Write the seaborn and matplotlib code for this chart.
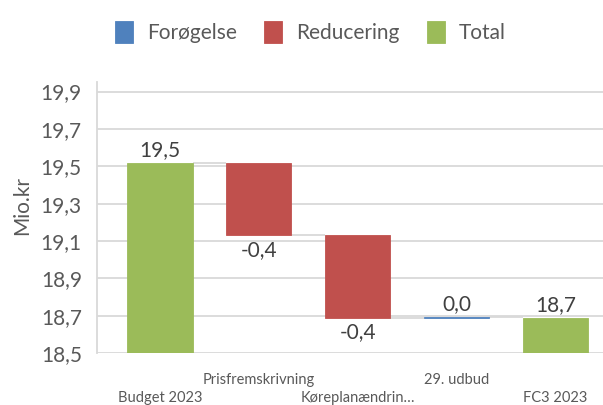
import matplotlib
matplotlib.use("Agg")
import matplotlib.pyplot as plt
import seaborn as sns
import pandas as pd

categories = ["Budget 2023", "Prisfremskrivning", "Køreplanændrin…", "29. udbud", "FC3 2023"]
values = [19.52, -0.39, -0.44, 0.003, 18.69]
kinds = ["Total", "Reducering", "Reducering", "Forøgelse", "Total"]
value_labels = ["19,5", "-0,4", "-0,4", "0,0", "18,7"]
y_ticks = [18.5, 18.7, 18.9, 19.1, 19.3, 19.5, 19.7, 19.9]
y_tick_labels = ["18,5", "18,7", "18,9", "19,1", "19,3", "19,5", "19,7", "19,9"]
legend_order = ["Forøgelse", "Reducering", "Total"]
colors = {"Forøgelse": "#4F81BD", "Reducering": "#C0504D", "Total": "#9BBB59"}

# waterfall geometry from the values
bottoms, heights, levels = [], [], []
running = 0.0
for v, k in zip(values, kinds):
    if k == "Total":
        bottoms.append(0.0)
        heights.append(v)
        running = v
    else:
        new = running + v
        bottoms.append(min(running, new))
        heights.append(abs(v))
        running = new
    levels.append(running)

df = pd.DataFrame({"category": categories, "kind": kinds,
                   "bottom": bottoms, "height": heights})

sns.set_style("white")
plt.rcParams["font.family"] = ["Lato", "DejaVu Sans"]

fig, ax = plt.subplots(figsize=(6.03, 4.05), dpi=100)
fig.subplots_adjust(left=0.161, right=1.0, bottom=0.128, top=0.797)

bar_w = 0.66
for kind in legend_order:
    sub = df[df["kind"] == kind]
    sns.barplot(data=sub, x="category", y="height", order=categories,
                bottom=sub["bottom"].values, color=colors[kind], saturation=1,
                width=bar_w, errorbar=None, label=kind, ax=ax,
                edgecolor=colors[kind], linewidth=0.6, zorder=3)

# connector lines
for i in range(len(categories) - 1):
    ax.hlines(levels[i], i + bar_w / 2, i + 1 - bar_w / 2,
              color="#D9D9D9", lw=1.3, zorder=2)

# data labels
for i, (lbl, k) in enumerate(zip(value_labels, kinds)):
    top = bottoms[i] + heights[i]
    if k == "Reducering":
        ax.annotate(lbl, (i, bottoms[i]), xytext=(0, -3), textcoords="offset points",
                    ha="center", va="top", fontsize=15, color="#404040")
    else:
        ax.annotate(lbl, (i, top), xytext=(0, 2), textcoords="offset points",
                    ha="center", va="bottom", fontsize=15, color="#404040")

ax.set_ylim(18.5, 19.95)
ax.set_xlim(-0.636, 4.48)
ax.set_yticks(y_ticks)
ax.set_yticklabels(y_tick_labels, fontsize=15, color="#595959")
ax.set_xticks(range(len(categories)))
ax.set_xticklabels(categories, fontsize=10.5, color="#595959")
ax.tick_params(axis="both", length=0)
ax.tick_params(axis="y", pad=11)
for i, tick in enumerate(ax.xaxis.get_major_ticks()):
    tick.set_pad(27 if i % 2 == 0 else 14)

ax.set_xlabel("")
ax.set_ylabel("Mio.kr", fontsize=15, color="#595959")
ax.yaxis.set_label_coords(-0.128, 0.545)
ax.yaxis.grid(True, color="#D9D9D9", lw=1.3)
ax.set_axisbelow(True)
for side in ["top", "right", "bottom"]:
    ax.spines[side].set_visible(False)
ax.spines["left"].set_color("#D9D9D9")
ax.spines["left"].set_linewidth(1.3)

handles, labels = ax.get_legend_handles_labels()
if ax.get_legend() is not None:
    ax.get_legend().remove()
fig.legend(handles, labels, loc="upper center", bbox_to_anchor=(0.515, 0.995),
           ncol=3, frameon=False, fontsize=15, handlelength=0.85, handleheight=1.25,
           columnspacing=1.3, handletextpad=0.7, labelcolor="#595959")

plt.savefig("out.png", dpi=100)
